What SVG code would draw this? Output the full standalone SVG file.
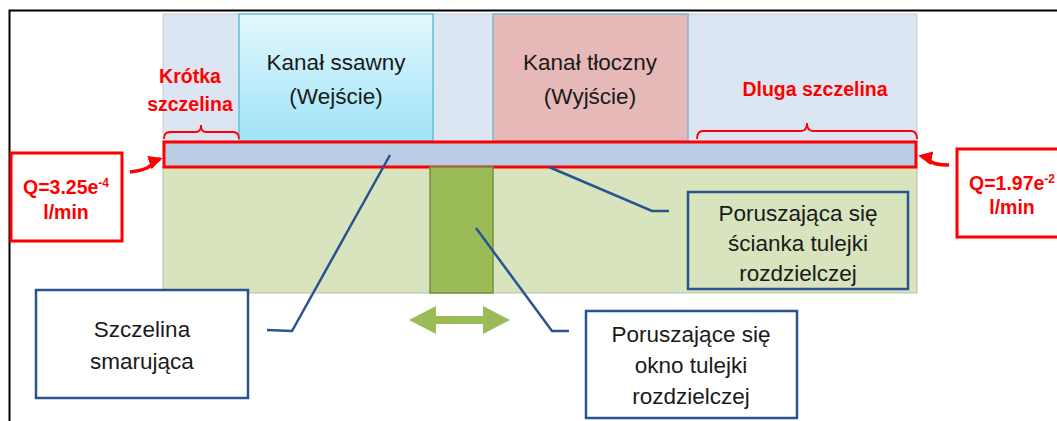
<svg xmlns="http://www.w3.org/2000/svg" width="1057" height="421" viewBox="0 0 1057 421">
  <defs>
    <linearGradient id="inletFill" x1="0" y1="0" x2="0" y2="1">
      <stop offset="0" stop-color="#e3f8fe"/>
      <stop offset="1" stop-color="#9fe4f7"/>
    </linearGradient>
    <marker id="redHead" viewBox="0 0 10 10" refX="8" refY="5" markerWidth="4" markerHeight="4" orient="auto" markerUnits="strokeWidth">
      <path d="M0,0 L10,5 L0,10 z" fill="#ff0000"/>
    </marker>
  </defs>
  <style>
    .lbl { font-family: "Liberation Sans", Arial, sans-serif; font-size: 22.5px; fill: #1a1a1a; text-anchor: middle; }
    .red { font-family: "Liberation Sans", Arial, sans-serif; font-size: 19.5px; font-weight: bold; fill: #ff0000; text-anchor: middle; }
    .callout { fill: #ffffff; stroke: #2a5490; stroke-width: 2.5; }
    .qbox { fill: #ffffff; stroke: #ff0000; stroke-width: 3; }
    .lead { fill: none; stroke: #2a5490; stroke-width: 2.5; }
    .brace { fill: none; stroke: #ff0000; stroke-width: 1.8; }
    .flow { fill: none; stroke: #ff0000; stroke-width: 3.5; marker-end: url(#redHead); }
  </style>

  <rect width="1057" height="421" fill="#ffffff"/>
  <!-- outer frame -->
  <rect x="9.5" y="10.5" width="1100" height="500" fill="none" stroke="#000000" stroke-width="2"/>

  <!-- valve body -->
  <g id="body-top">
    <rect x="163" y="14" width="754" height="128" fill="#dce6f2" stroke="#c8ccd2" stroke-width="1"/>
  </g>
  <g id="body-bottom">
    <rect x="163" y="167" width="754" height="126" fill="#d7e4bd" stroke="#b8bfb0" stroke-width="1"/>
  </g>

  <g id="inlet">
    <rect x="239" y="14" width="194" height="127" fill="url(#inletFill)" stroke="#62bfd8" stroke-width="1.5"/>
    <text class="lbl" x="336" y="70">Kanał ssawny</text>
    <text class="lbl" x="336" y="104">(Wejście)</text>
  </g>

  <g id="outlet">
    <rect x="493" y="14" width="195" height="127" fill="#e6b9b8" stroke="#7fb9cc" stroke-width="1.5"/>
    <text class="lbl" x="590" y="70">Kanał tłoczny</text>
    <text class="lbl" x="590" y="104">(Wyjście)</text>
  </g>

  <g id="gap">
    <rect x="164" y="142" width="752" height="25" fill="#b9cde5" stroke="#ff0000" stroke-width="3"/>
  </g>

  <g id="window">
    <rect x="430" y="167" width="63" height="126" fill="#9bbb59" stroke="#748f3f" stroke-width="1.5"/>
  </g>

  <g id="motion-arrow">
    <polygon points="409,320 436,306 436,316 483,316 483,306 510,320 483,334 483,324 436,324 436,334" fill="#9bbb59"/>
  </g>

  <!-- gap length labels -->
  <g id="short-gap">
    <path class="brace" d="M164,139 Q164,132 170,132 L196,132 Q201,132 201,125 Q201,132 206,132 L233,132 Q239,132 239,139"/>
    <text class="red" x="190" y="83">Krótka</text>
    <text class="red" x="190" y="111">szczelina</text>
  </g>
  <g id="long-gap">
    <path class="brace" d="M697,139 Q697,131 703,131 L801,131 Q807,131 807,123 Q807,131 813,131 L911,131 Q917,131 917,139"/>
    <text class="red" x="815" y="96">Dluga szczelina</text>
  </g>

  <g id="flow-left">
    <rect class="qbox" x="11" y="153" width="111" height="88"/>
    <text class="red" x="66" y="194">Q=3.25e<tspan font-size="12" dy="-7">-4</tspan></text>
    <text class="red" x="66" y="219" dy="0">l/min</text>
  </g>
  <g id="flow-right">
    <rect class="qbox" x="957" y="149" width="110" height="88"/>
    <text class="red" x="1012" y="190">Q=1.97e<tspan font-size="12" dy="-7">-2</tspan></text>
    <text class="red" x="1012" y="214">l/min</text>
  </g>

  <g id="callout-gap">
    <rect class="callout" x="36" y="290" width="212" height="108"/>
    <text class="lbl" x="142" y="337">Szczelina</text>
    <text class="lbl" x="142" y="369">smarująca</text>
  </g>
  <g id="callout-wall">
    <rect x="688" y="192" width="220" height="97" fill="#d7e4bd" stroke="#2a5490" stroke-width="2.5"/>
    <text class="lbl" x="798" y="221">Poruszająca się</text>
    <text class="lbl" x="798" y="251">ścianka tulejki</text>
    <text class="lbl" x="798" y="281">rozdzielczej</text>
  </g>
  <g id="callout-window">
    <rect class="callout" x="586" y="311" width="211" height="107"/>
    <text class="lbl" x="691" y="342">Poruszające się</text>
    <text class="lbl" x="691" y="373">okno tulejki</text>
    <text class="lbl" x="691" y="404">rozdzielczej</text>
  </g>

  <g id="connectors">
    <polyline class="lead" points="267,330 292,331 390,155"/>
    <polyline class="lead" points="549,167 652,211 669,211"/>
    <polyline class="lead" points="476,228 552,331 569,331"/>
    <path class="flow" d="M130,172 Q146,170 150,166 Q154,161 160,159"/>
    <path class="flow" d="M949,165 Q934,165 930,161 Q926,157 921,156"/>
  </g>
</svg>
